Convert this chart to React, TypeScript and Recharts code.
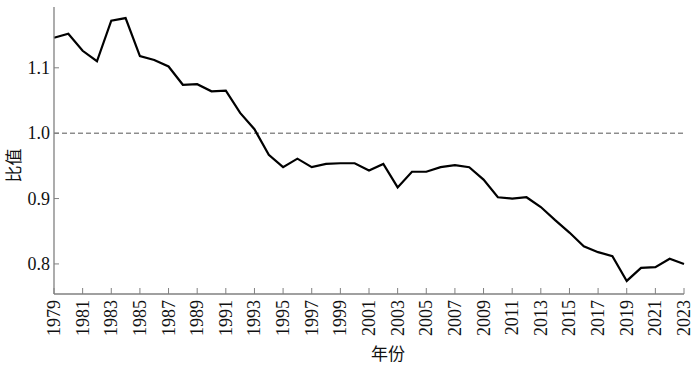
import React from "react";
import { LineChart, Line, XAxis, YAxis, ReferenceLine } from "recharts";

const years = [
  1979, 1980, 1981, 1982, 1983, 1984, 1985, 1986, 1987, 1988, 1989, 1990,
  1991, 1992, 1993, 1994, 1995, 1996, 1997, 1998, 1999, 2000, 2001, 2002,
  2003, 2004, 2005, 2006, 2007, 2008, 2009, 2010, 2011, 2012, 2013, 2014,
  2015, 2016, 2017, 2018, 2019, 2020, 2021, 2022, 2023,
];

const ratios = [
  1.146, 1.152, 1.126, 1.11, 1.172, 1.176, 1.118, 1.112, 1.102, 1.074, 1.075,
  1.064, 1.065, 1.031, 1.006, 0.967, 0.948, 0.961, 0.948, 0.953, 0.954, 0.954,
  0.943, 0.953, 0.917, 0.941, 0.941, 0.948, 0.951, 0.948, 0.929, 0.902, 0.9,
  0.902, 0.887, 0.867, 0.848, 0.827, 0.818, 0.812, 0.774, 0.794, 0.795, 0.808,
  0.8,
];

const xTicks = [
  1979, 1981, 1983, 1985, 1987, 1989, 1991, 1993, 1995, 1997, 1999, 2001,
  2003, 2005, 2007, 2009, 2011, 2013, 2015, 2017, 2019, 2021, 2023,
];
const yTicks = [0.8, 0.9, 1.0, 1.1];

const data = years.map((year, i) => ({ year, ratio: ratios[i] }));

const AXIS = "#808080";
const serifStyle = {
  fontFamily: '"Liberation Serif", "DejaVu Serif", serif',
  fontSize: 18,
};
const cjkStyle = { fontFamily: '"Noto Sans CJK SC", sans-serif', fontSize: 17 };

function XTick({ x, y, payload }: any) {
  return (
    <g>
      <line x1={x} y1={y} x2={x} y2={y - 6} stroke={AXIS} strokeWidth={1} />
      <text
        x={x}
        y={y + 6}
        transform={`rotate(-90, ${x}, ${y + 6})`}
        textAnchor="end"
        dominantBaseline="central"
        style={serifStyle}
        fill="#111"
      >
        {payload.value}
      </text>
    </g>
  );
}

function YTick({ x, y, payload }: any) {
  return (
    <g>
      <line x1={x} y1={y} x2={x + 5} y2={y} stroke={AXIS} strokeWidth={1} />
      <text
        x={x - 4}
        y={y}
        textAnchor="end"
        dominantBaseline="central"
        style={serifStyle}
        fill="#111"
      >
        {Number(payload.value).toFixed(1)}
      </text>
    </g>
  );
}

export default function App() {
  return (
    <div style={{ position: "absolute", left: 0, top: 0, background: "#fff" }}>
      <LineChart
        width={700}
        height={365}
        data={data}
        margin={{ top: 7, right: 16, left: 0, bottom: 0 }}
      >
        <XAxis
          dataKey="year"
          type="number"
          domain={[1979, 2023]}
          ticks={xTicks}
          interval={0}
          height={71}
          tickSize={0}
          tickMargin={0}
          tickLine={false}
          tick={<XTick />}
          axisLine={{ stroke: AXIS, strokeWidth: 1.3 }}
          label={{
            content: ({ viewBox }: any) => (
              <text
                x={viewBox.x + viewBox.width / 2 + 19}
                y={viewBox.y + 58}
                textAnchor="middle"
                dominantBaseline="central"
                style={cjkStyle}
                fill="#111"
              >
                年份
              </text>
            ),
          }}
        />
        <YAxis
          type="number"
          domain={[0.754, 1.193]}
          ticks={yTicks}
          width={54}
          tickSize={0}
          tickMargin={0}
          tickLine={false}
          tick={<YTick />}
          axisLine={{ stroke: AXIS, strokeWidth: 1.3 }}
          allowDataOverflow
          label={{
            content: ({ viewBox }: any) => {
              const cx = viewBox.x + 12;
              const cy = viewBox.y + viewBox.height / 2 + 15;
              return (
                <text
                  x={cx}
                  y={cy}
                  transform={`rotate(-90, ${cx}, ${cy})`}
                  textAnchor="middle"
                  dominantBaseline="central"
                  style={cjkStyle}
                  fill="#111"
                >
                  比值
                </text>
              );
            },
          }}
        />
        <ReferenceLine
          y={1.0}
          stroke="#555"
          strokeWidth={1}
          strokeDasharray="5 3"
        />
        <Line
          type="linear"
          dataKey="ratio"
          stroke="#000"
          strokeWidth={2.2}
          dot={false}
          activeDot={false}
          isAnimationActive={false}
        />
      </LineChart>
    </div>
  );
}
